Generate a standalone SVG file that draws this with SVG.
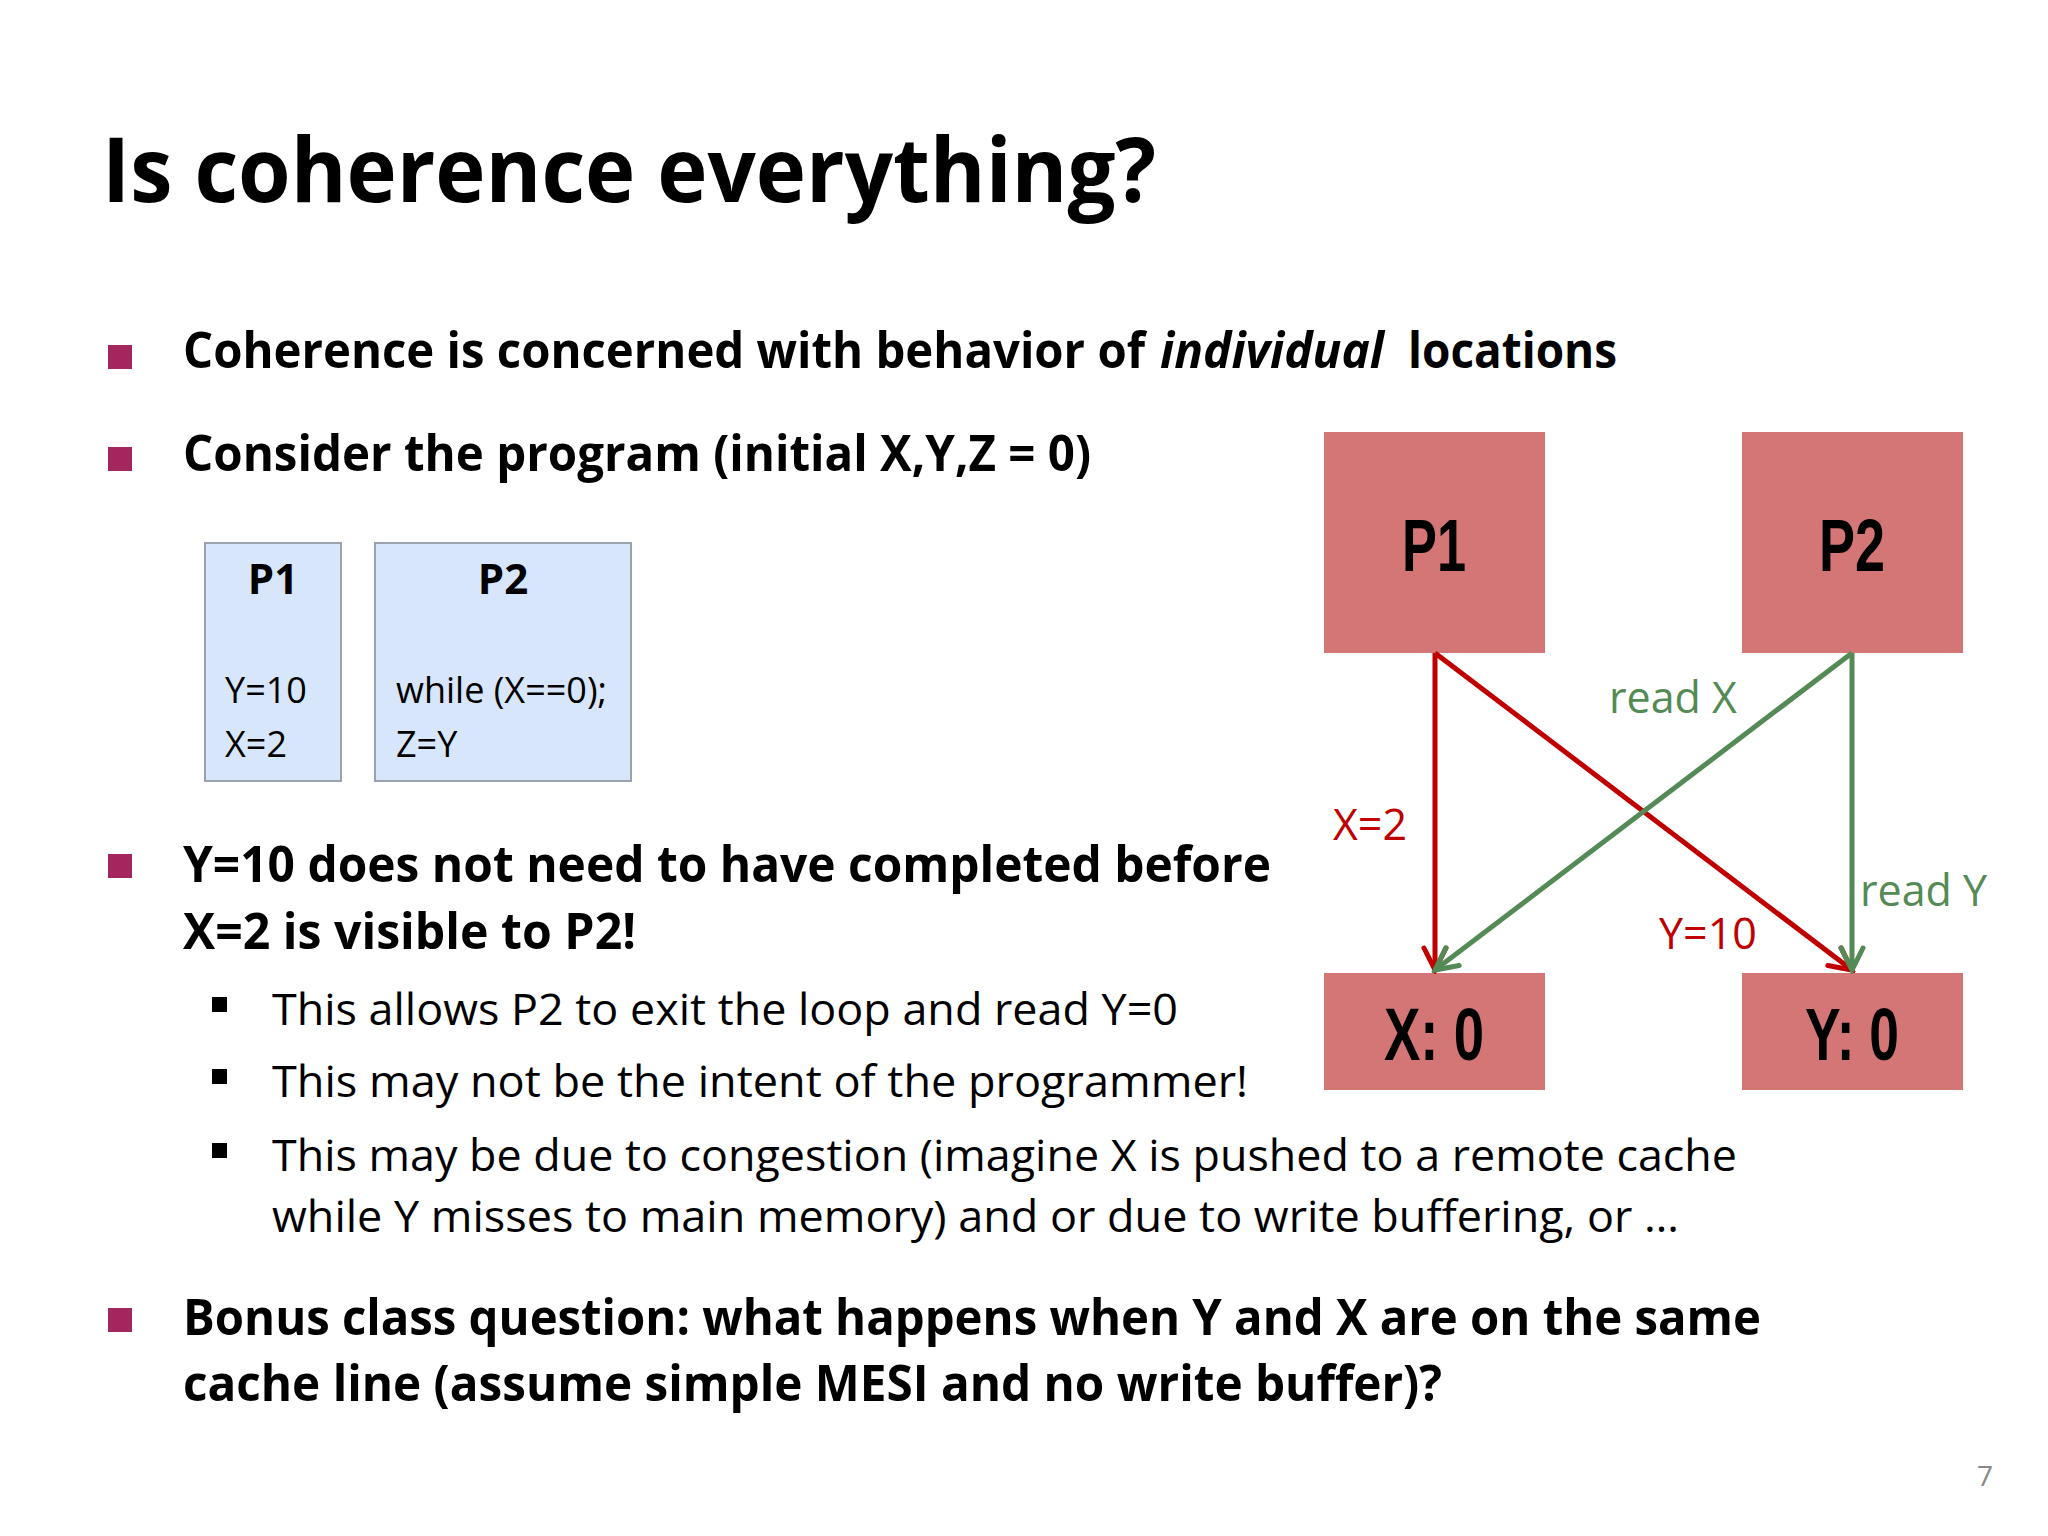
<svg xmlns="http://www.w3.org/2000/svg" width="2048" height="1536" viewBox="0 0 2048 1536">
<style>
.t{font-family:"Open Sans","Noto Sans",sans-serif;fill:#000}
.b{font-weight:bold}
.blt{fill:#a3265e}
.sb{fill:#000}
.node{fill:#d47676}
.nl{font-family:"Liberation Sans Narrow","Liberation Sans",sans-serif;font-weight:bold;font-size:74px;text-anchor:middle}
.code{fill:#d7e6fb;stroke:#9aa3ad;stroke-width:2}
.red{stroke:#c00000;stroke-width:5;fill:none}
.grn{stroke:#548a56;stroke-width:5;fill:none}
.lr{font-family:"Open Sans","Noto Sans",sans-serif;font-size:43px;fill:#c00000}
.lg{font-family:"Open Sans","Noto Sans",sans-serif;font-size:43px;fill:#548a56}
</style>
<defs>
<marker id="ar" markerWidth="30" markerHeight="30" refX="26" refY="15" orient="auto" markerUnits="userSpaceOnUse"><path d="M4,4 L26,15 L4,26" fill="none" stroke="#c00000" stroke-width="5" stroke-linecap="round"/></marker>
<marker id="ag" markerWidth="30" markerHeight="30" refX="26" refY="15" orient="auto" markerUnits="userSpaceOnUse"><path d="M4,4 L26,15 L4,26" fill="none" stroke="#548a56" stroke-width="5" stroke-linecap="round"/></marker>
</defs>
<rect width="2048" height="1536" fill="#fff"/>
<text class="t b" x="102" y="202" font-size="90" textLength="1054" lengthAdjust="spacingAndGlyphs">Is coherence everything?</text>
<rect class="blt" x="108" y="345" width="24" height="24"/>
<text class="t b" x="183" y="368" font-size="50" textLength="962" lengthAdjust="spacingAndGlyphs">Coherence is concerned with behavior of</text>
<text class="t b" x="1160" y="368" font-size="50" font-style="italic" textLength="224" lengthAdjust="spacingAndGlyphs">individual</text>
<text class="t b" x="1408" y="368" font-size="50" textLength="209" lengthAdjust="spacingAndGlyphs">locations</text>
<rect class="blt" x="108" y="447" width="24" height="24"/>
<text class="t b" x="183" y="471" font-size="50" textLength="908" lengthAdjust="spacingAndGlyphs">Consider the program (initial X,Y,Z = 0)</text>
<g id="codeP1"><rect class="code" x="205" y="543" width="136" height="238"/>
<text class="t b" x="273" y="594" font-size="42" text-anchor="middle">P1</text>
<text class="t" x="225" y="703" font-size="36">Y=10</text>
<text class="t" x="225" y="757" font-size="36">X=2</text></g>
<g id="codeP2"><rect class="code" x="375" y="543" width="256" height="238"/>
<text class="t b" x="503" y="594" font-size="42" text-anchor="middle">P2</text>
<text class="t" x="396" y="703" font-size="36">while (X==0);</text>
<text class="t" x="396" y="757" font-size="36">Z=Y</text></g>
<rect class="blt" x="108" y="854" width="24" height="24"/>
<text class="t b" x="183" y="882" font-size="50" textLength="1088" lengthAdjust="spacingAndGlyphs">Y=10 does not need to have completed before</text>
<text class="t b" x="183" y="949" font-size="50" textLength="453" lengthAdjust="spacingAndGlyphs">X=2 is visible to P2!</text>
<rect class="sb" x="212" y="997" width="15" height="15"/>
<text class="t" x="272" y="1025" font-size="44" textLength="906" lengthAdjust="spacingAndGlyphs">This allows P2 to exit the loop and read Y=0</text>
<rect class="sb" x="212" y="1069" width="15" height="15"/>
<text class="t" x="272" y="1097" font-size="44" textLength="976" lengthAdjust="spacingAndGlyphs">This may not be the intent of the programmer!</text>
<rect class="sb" x="212" y="1143" width="15" height="15"/>
<text class="t" x="272" y="1171" font-size="44" textLength="1465" lengthAdjust="spacingAndGlyphs">This may be due to congestion (imagine X is pushed to a remote cache</text>
<text class="t" x="272" y="1232" font-size="44" textLength="1407" lengthAdjust="spacingAndGlyphs">while Y misses to main memory) and or due to write buffering, or …</text>
<rect class="blt" x="108" y="1308" width="24" height="24"/>
<text class="t b" x="183" y="1335" font-size="50" textLength="1578" lengthAdjust="spacingAndGlyphs">Bonus class question: what happens when Y and X are on the same</text>
<text class="t b" x="183" y="1401" font-size="50" textLength="1259" lengthAdjust="spacingAndGlyphs">cache line (assume simple MESI and no write buffer)?</text>
<text x="1985" y="1486" font-family="Open Sans,sans-serif" font-size="28" fill="#888" text-anchor="middle">7</text>
<g id="P1"><rect class="node" x="1324" y="432" width="221" height="221"/><text class="nl" x="1434" y="571" textLength="64" lengthAdjust="spacingAndGlyphs">P1</text></g>
<g id="P2"><rect class="node" x="1742" y="432" width="221" height="221"/><text class="nl" x="1852" y="571" textLength="66" lengthAdjust="spacingAndGlyphs">P2</text></g>
<g id="X0"><rect class="node" x="1324" y="973" width="221" height="117"/><text class="nl" x="1434" y="1060" textLength="100" lengthAdjust="spacingAndGlyphs">X: 0</text></g>
<g id="Y0"><rect class="node" x="1742" y="973" width="221" height="117"/><text class="nl" x="1852" y="1060" textLength="94" lengthAdjust="spacingAndGlyphs">Y: 0</text></g>
<g id="connectors">
<line class="red" x1="1435" y1="653" x2="1435" y2="970" marker-end="url(#ar)"/>
<line class="red" x1="1435" y1="653" x2="1852" y2="970" marker-end="url(#ar)"/>
<line class="grn" x1="1852" y1="653" x2="1852" y2="970" marker-end="url(#ag)"/>
<line class="grn" x1="1852" y1="653" x2="1435" y2="970" marker-end="url(#ag)"/>
<text class="lg" x="1609" y="713">read X</text>
<text class="lr" x="1333" y="840">X=2</text>
<text class="lg" x="1860" y="906">read Y</text>
<text class="lr" x="1659" y="949">Y=10</text>
</g>
</svg>
